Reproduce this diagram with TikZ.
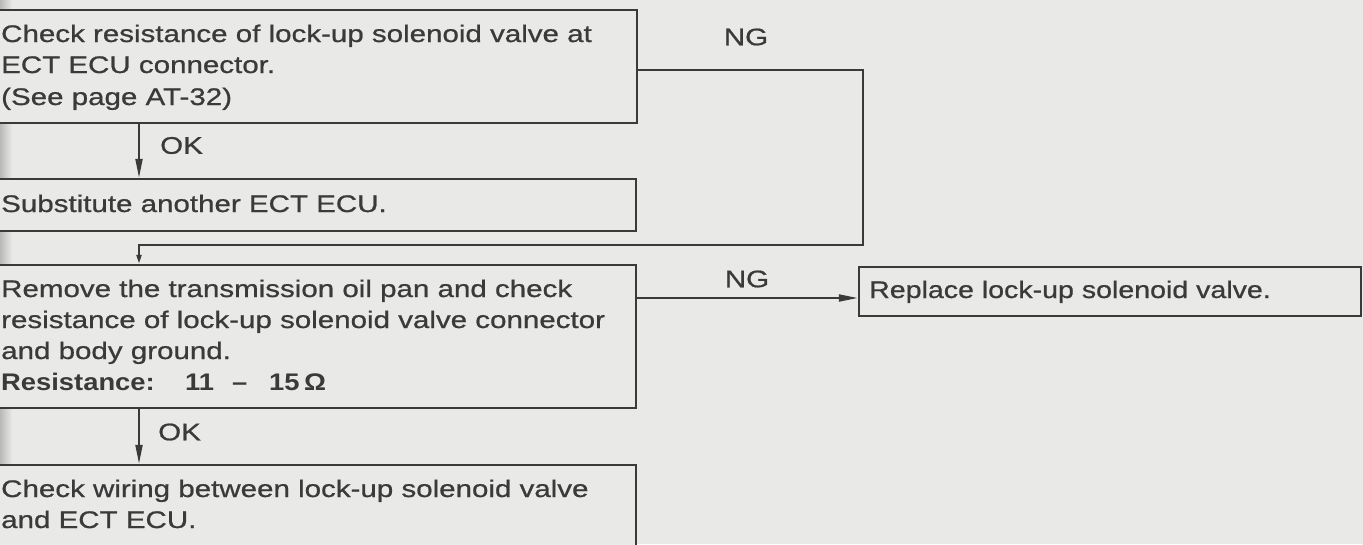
\documentclass[tikz,border=0pt]{standalone}
\usepackage{fontspec}
\setmainfont{Liberation Sans}[FakeStretch=1.23, FakeBold=0.8]
\newfontfamily\narrowfont{Liberation Sans}[FakeStretch=1.19, FakeBold=0.8]
\newfontfamily\heavyfont{Liberation Sans}[FakeStretch=1.14]
\usetikzlibrary{arrows.meta}
\definecolor{paper}{HTML}{E9E9E7}
\definecolor{ink}{HTML}{3A3A3A}
\begin{document}
\begin{tikzpicture}[x=1pt,y=-1pt,
  box/.style={draw=ink, line width=2.4pt, fill=paper, inner sep=0pt, rectangle},
  txt/.style={anchor=base west, inner sep=0pt, text=ink, font=\fontsize{24}{31}\selectfont},
  heavy/.style={txt, font=\fontsize{24}{31}\selectfont\heavyfont\bfseries},
  lbl/.style={inner sep=0pt, text=ink, font=\fontsize{24}{31}\selectfont},
  conn/.style={draw=ink, line width=2pt},
  arr/.style={conn, -{Triangle[length=19pt,width=7pt]}},
  arrsmall/.style={conn, -{Triangle[length=9pt,width=5pt]}}
]
\useasboundingbox (0,0) rectangle (1363,544);
\fill[paper] (0,0) rectangle (1363,544);
\clip (0,0) rectangle (1363,544);
\shade[left color=gray!55, right color=paper] (0,0) rectangle (12,544);

% boxes
\node[box, minimum width=657pt, minimum height=113pt] (b1) at (308.5,66.5) {};
\node[box, minimum width=656pt, minimum height=52pt] (b2) at (308,205) {};
\node[box, minimum width=656pt, minimum height=143pt] (b3) at (308,336.5) {};
\node[box, minimum width=502pt, minimum height=49pt] (b4) at (1110,291.5) {};
\node[box, minimum width=656pt, minimum height=115pt] (b5) at (308,522.5) {};

% texts
\node[txt] (t1a) at (1,42) {Check resistance of lock-up solenoid valve at};
\node[txt] (t1b) at (1,73) {ECT ECU connector.};
\node[txt] (t1c) at (1,105) {(See page AT-32)};
\node[txt] (t2a) at (1,212) {Substitute another ECT ECU.};
\node[txt] (t3a) at (1,297) {Remove the transmission oil pan and check};
\node[txt] (t3b) at (1,328) {resistance of lock-up solenoid valve connector};
\node[txt] (t3c) at (1,359) {and body ground.};
\node[heavy] (t3d) at (1,390) {Resistance:};
\node[heavy] (t3e) at (185,390) {11};
\node[heavy] (t3f) at (232,390) {–};
\node[heavy] (t3g) at (269,390) {15};
\node[heavy] (t3h) at (304,390) {Ω};
\node[txt, font=\fontsize{24}{31}\selectfont\narrowfont] (t4a) at (869,298) {Replace lock-up solenoid valve.};
\node[txt] (t5a) at (1,497) {Check wiring between lock-up solenoid valve};
\node[txt] (t5b) at (1,528) {and ECT ECU.};

% helper coordinates
\coordinate (cx) at (139,0);
\coordinate (k1) at (863,70);
\coordinate (k2) at (863,245);
\coordinate (n2) at (0,298);

% connectors
\draw[arr] (b1.south -| cx) -- (b2.north -| cx);
\draw[arrsmall] (b1.east |- k1) -- (k1) -- (k2) -- (k2 -| cx) -- (b3.north -| cx);
\draw[arr] (b3.east |- n2) -- (b4.west |- n2);
\draw[arr] (b3.south -| cx) -- (b5.north -| cx);

% labels
\node[lbl] (ng1) at (746,37) {NG};
\node[lbl] (ng2) at (747,279) {NG};
\node[lbl, anchor=west] (ok1) at (160,145.5) {OK};
\node[lbl, anchor=west] (ok2) at (158,432) {OK};
\end{tikzpicture}
\end{document}
